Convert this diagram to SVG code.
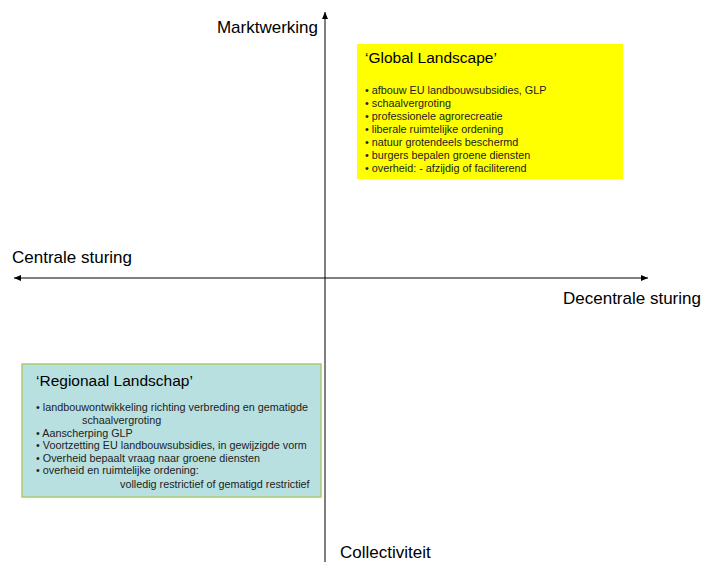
<svg xmlns="http://www.w3.org/2000/svg" width="701" height="562" viewBox="0 0 701 562">
<style>
.ax{font-family:"Liberation Sans",Arial,sans-serif;font-size:17px;fill:#000}
.ttl{font-family:"Liberation Sans",Arial,sans-serif;font-size:15.5px;fill:#000}
.it{font-family:"Liberation Sans",Arial,sans-serif;font-size:10.8px;fill:#222}
.axis{stroke:#000;stroke-width:1;fill:none}
</style>
<defs>
<marker id="ah" markerWidth="8" markerHeight="8" refX="7" refY="4" orient="auto" markerUnits="userSpaceOnUse">
<path d="M0,1 L7,4 L0,7 Z" fill="#000"/>
</marker>
</defs>
<rect width="701" height="562" fill="#fff"/>
<g id="connectors">
<line class="axis" x1="325" y1="562" x2="325" y2="12" marker-end="url(#ah)"/>
<line class="axis" x1="330" y1="278" x2="648" y2="278" marker-end="url(#ah)"/>
<line class="axis" x1="330" y1="278" x2="14" y2="278" marker-end="url(#ah)"/>
</g>
<g id="label-marktwerking"><text class="ax" x="318" y="33" text-anchor="end">Marktwerking</text></g>
<g id="label-centrale"><text class="ax" x="12" y="263">Centrale sturing</text></g>
<g id="label-decentrale"><text class="ax" x="563" y="304">Decentrale sturing</text></g>
<g id="label-collectiviteit"><text class="ax" x="340" y="558">Collectiviteit</text></g>
<g id="global-landscape">
<rect x="357" y="44" width="266" height="135" fill="#ffff00"/>
<text class="ttl" x="365" y="63">‘Global Landscape’</text>
<text class="it" x="365" y="94">• afbouw EU landbouwsubsidies, GLP</text>
<text class="it" x="365" y="107">• schaalvergroting</text>
<text class="it" x="365" y="120">• professionele agrorecreatie</text>
<text class="it" x="365" y="133">• liberale ruimtelijke ordening</text>
<text class="it" x="365" y="146">• natuur grotendeels beschermd</text>
<text class="it" x="365" y="159">• burgers bepalen groene diensten</text>
<text class="it" x="365" y="172">• overheid: - afzijdig of faciliterend</text>
</g>
<g id="regionaal-landschap">
<rect x="22" y="364" width="299" height="133" fill="#b8e0e0" stroke="#a8cc70" stroke-width="1.5"/>
<text class="ttl" x="36" y="386">‘Regionaal Landschap’</text>
<text class="it" x="36" y="411">• landbouwontwikkeling richting verbreding en gematigde</text>
<text class="it" x="82" y="424">schaalvergroting</text>
<text class="it" x="36" y="437">• Aanscherping GLP</text>
<text class="it" x="36" y="449">• Voortzetting EU landbouwsubsidies, in gewijzigde vorm</text>
<text class="it" x="36" y="462">• Overheid bepaalt vraag naar groene diensten</text>
<text class="it" x="36" y="474">• overheid en ruimtelijke ordening:</text>
<text class="it" x="120" y="488">volledig restrictief of gematigd restrictief</text>
</g>
</svg>
